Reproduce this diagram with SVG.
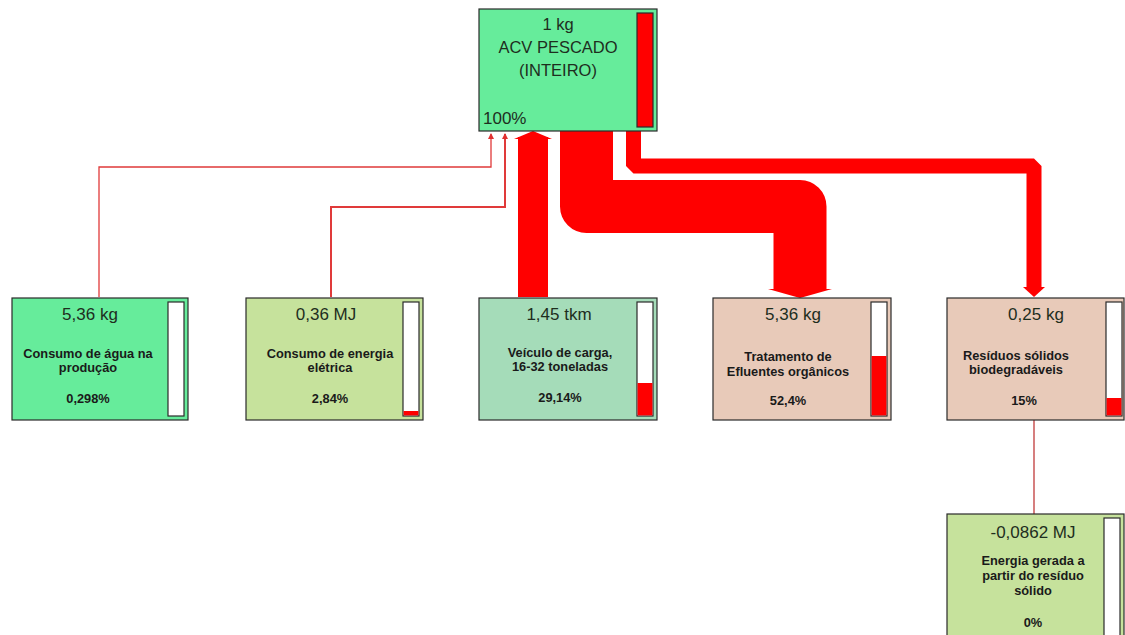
<svg xmlns="http://www.w3.org/2000/svg" width="1125" height="635" viewBox="0 0 1125 635">
<style>
.box{stroke:#2a2a2a;stroke-width:1.2}
.g1{fill:#66ec9b}
.g2{fill:#c6e29c}
.g3{fill:#a5dcb9}
.p1{fill:#e8cab9}
.bar{fill:#fff;stroke:#2a2a2a;stroke-width:1.2}
.red{fill:#ff0000}
.val{font-family:"Liberation Sans",Arial,sans-serif;font-size:17px;fill:#1e2e1e;text-anchor:middle}
.top{font-family:"Liberation Sans",Arial,sans-serif;font-size:16.5px;fill:#1e2e1e;text-anchor:middle}
.nm{font-family:"Liberation Sans",Arial,sans-serif;font-size:12.8px;font-weight:bold;fill:#1a1a1a;text-anchor:middle}
.thin{fill:none;stroke:#e03a3a}
</style>
<defs>
<marker id="ah" markerWidth="6" markerHeight="6" refX="5" refY="3" orient="auto" markerUnits="userSpaceOnUse">
<path d="M0,0 L6,3 L0,6 z" fill="#e03030"/>
</marker>
</defs>
<g id="connectors">
<path class="thin" d="M99,297 V167 H491 V134" stroke-width="1.3" marker-end="url(#ah)"/>
<path class="thin" d="M331,297 V207 H505 V134" stroke-width="2" marker-end="url(#ah)"/>
<rect x="518" y="137" width="30" height="160" fill="#ff0000"/>
<polygon points="514,139 552,139 533,131" fill="#ff0000"/>
<path d="M586.5,131 V206.5 H800 V290" fill="none" stroke="#ff0000" stroke-width="53" stroke-linejoin="round"/>
<polygon points="768,289 832,289 800,298" fill="#ff0000"/>
<path d="M633.5,131 V166 H1034 V289" fill="none" stroke="#ff0000" stroke-width="15" stroke-linejoin="bevel"/>
<polygon points="1023,287 1045,287 1034,297" fill="#ff0000"/>
<line x1="1034" y1="420" x2="1034" y2="514" stroke="#c03a3a" stroke-width="1.3"/>
</g>
<g id="node-acv">
<rect class="box g1" x="479" y="9" width="178" height="122"/>
<rect class="bar red" x="637" y="13" width="16" height="114"/>
<text class="top" x="558" y="30">1 kg</text>
<text class="top" x="558" y="53">ACV PESCADO</text>
<text class="top" x="558" y="76">(INTEIRO)</text>
<text class="top" x="483" y="124" style="text-anchor:start;font-size:17px">100%</text>
</g>
<g id="node-agua">
<rect class="box g1" x="12" y="298" width="176" height="122"/>
<rect class="bar" x="168" y="302" width="16" height="114"/>
<text class="val" x="90" y="320">5,36 kg</text>
<text class="nm" x="88" y="358">Consumo de água na</text>
<text class="nm" x="88" y="372">produção</text>
<text class="nm" x="88" y="403">0,298%</text>
</g>
<g id="node-energia">
<rect class="box g2" x="246" y="298" width="177" height="122"/>
<rect class="bar" x="403" y="302" width="16" height="114"/>
<rect class="red" x="403.6" y="411" width="14.8" height="4.4"/>
<text class="val" x="326" y="320">0,36 MJ</text>
<text class="nm" x="330" y="358">Consumo de energia</text>
<text class="nm" x="330" y="372">elétrica</text>
<text class="nm" x="330" y="403">2,84%</text>
</g>
<g id="node-veiculo">
<rect class="box g3" x="479" y="298" width="178" height="122"/>
<rect class="bar" x="637" y="302" width="16" height="114"/>
<rect class="red" x="637.6" y="383" width="14.8" height="32.4"/>
<text class="val" x="559" y="320">1,45 tkm</text>
<text class="nm" x="560" y="357">Veículo de carga,</text>
<text class="nm" x="560" y="371">16-32 toneladas</text>
<text class="nm" x="560" y="402">29,14%</text>
</g>
<g id="node-efluentes">
<rect class="box p1" x="713" y="298" width="178" height="122"/>
<rect class="bar" x="871" y="302" width="16" height="114"/>
<rect class="red" x="871.6" y="356" width="14.8" height="59.4"/>
<text class="val" x="793" y="320">5,36 kg</text>
<text class="nm" x="788" y="361">Tratamento de</text>
<text class="nm" x="788" y="376">Efluentes orgânicos</text>
<text class="nm" x="788" y="405">52,4%</text>
</g>
<g id="node-residuos">
<rect class="box p1" x="947" y="298" width="177" height="122"/>
<rect class="bar" x="1106" y="302" width="16" height="114"/>
<rect class="red" x="1106.6" y="398" width="14.8" height="17.4"/>
<text class="val" x="1036" y="320">0,25 kg</text>
<text class="nm" x="1016" y="360">Resíduos sólidos</text>
<text class="nm" x="1016" y="374">biodegradáveis</text>
<text class="nm" x="1024" y="405">15%</text>
</g>
<g id="node-energia-gerada">
<rect class="box g2" x="947" y="514" width="177" height="130"/>
<rect class="bar" x="1104" y="518" width="16" height="130"/>
<text class="val" x="1033" y="538">-0,0862 MJ</text>
<text class="nm" x="1033" y="565">Energia gerada a</text>
<text class="nm" x="1033" y="580">partir do resíduo</text>
<text class="nm" x="1033" y="595">sólido</text>
<text class="nm" x="1033" y="627">0%</text>
</g>
</svg>
